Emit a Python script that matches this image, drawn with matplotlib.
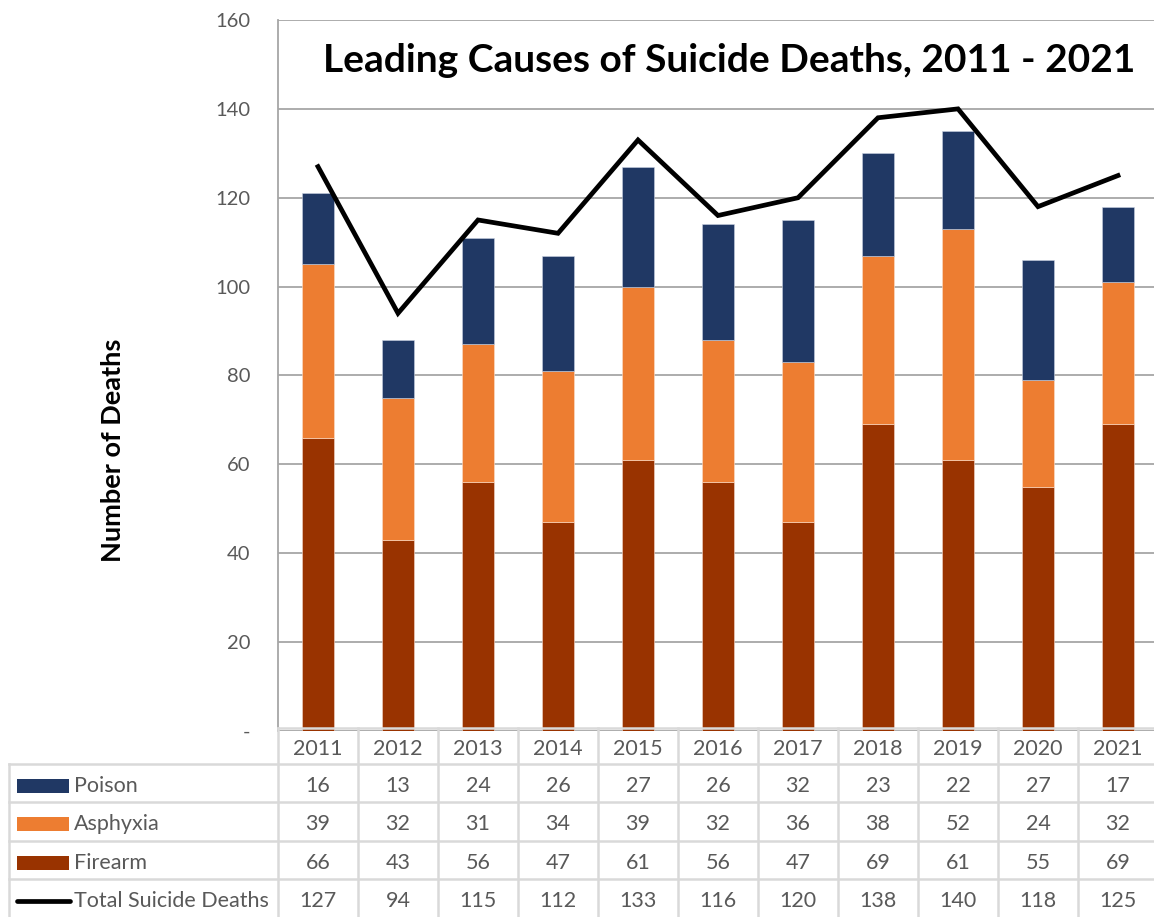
import matplotlib.pyplot as plt
from matplotlib.patches import Rectangle
import numpy as np

# data
years = ["2011", "2012", "2013", "2014", "2015", "2016", "2017", "2018", "2019", "2020", "2021"]
poison = [16, 13, 24, 26, 27, 26, 32, 23, 22, 27, 17]
asphyxia = [39, 32, 31, 34, 39, 32, 36, 38, 52, 24, 32]
firearm = [66, 43, 56, 47, 61, 56, 47, 69, 61, 55, 69]
total = [127, 94, 115, 112, 133, 116, 120, 138, 140, 118, 125]

c_poison = "#203864"
c_asph = "#ED7D31"
c_fire = "#993300"
grey_txt = "#595959"

plt.rcParams['font.family'] = ['Lato', 'DejaVu Sans']

W, H = 1154, 917
fig = plt.figure(figsize=(W / 100, H / 100), dpi=100)

# main plot area (in pixels: x 278..1158, y 20..731 from top)
cat_w = 80
ax = fig.add_axes([278 / W, (H - 731) / H, 11 * cat_w / W, 711 / H])
x = np.arange(len(years))
ax.bar(x, firearm, 0.4, color=c_fire, edgecolor="#f3d9cc", linewidth=0.4, zorder=3)
ax.bar(x, asphyxia, 0.4, bottom=firearm, color=c_asph, edgecolor="#fbe0cc", linewidth=0.4, zorder=3)
bot2 = np.array(firearm) + np.array(asphyxia)
ax.bar(x, poison, 0.4, bottom=bot2, color=c_poison, edgecolor="#c8d0e0", linewidth=0.4, zorder=3)
ax.plot(x, total, color="black", lw=3.4, zorder=4, solid_joinstyle="miter")

ax.set_xlim(-0.5, 10.5)
ax.set_ylim(0, 160)
ax.set_yticks(range(0, 161, 20))
ax.set_yticklabels(["-"] + [str(v) for v in range(20, 161, 20)], color=grey_txt, fontsize=14.5)
ax.tick_params(axis="y", length=0, pad=20)
ax.set_xticks([])
ax.grid(axis="y", color="#a6a6a6", lw=1.3, zorder=0)
for s in ["top", "right", "bottom"]:
    ax.spines[s].set_visible(False)
ax.spines["left"].set_color("#a6a6a6")
ax.spines["left"].set_linewidth(1.3)

fig.text(729.5 / W, (H - 72) / H, "Leading Causes of Suicide Deaths, 2011 - 2021",
         ha="center", va="baseline", fontsize=28, fontweight="bold")
fig.text(113 / W, (H - 450) / H, "Number of Deaths", rotation=90,
         ha="center", va="center", fontsize=19.5, fontweight="bold")

# data table below the plot
left_cats = (278 - 9) / cat_w
tax = fig.add_axes([9 / W, 0, (278 - 9 + 11 * cat_w) / W, (H - 731 + 3) / H])
tax.set_xlim(-0.5 - left_cats, 10.5)
tax.set_ylim(189, 0)
tax.axis("off")
row_edges = [0, 35.5, 74, 112.5, 151, 189]
line_c = "#d9d9d9"
for yy in row_edges[1:-1]:
    tax.plot([-0.5 - left_cats, 10.5], [yy, yy], color=line_c, lw=1.8, clip_on=False)
tax.plot([-0.5, 10.5], [0, 0], color=line_c, lw=1.8, clip_on=False)
tax.plot([-0.5 - left_cats] * 2, [35.5, 189], color=line_c, lw=1.8, clip_on=False)
for k in range(len(years) + 1):
    tax.plot([k - 0.5] * 2, [0, 189], color=line_c, lw=1.8, clip_on=False)

# text sits a little low in each cell, as in the reference
centers = [(row_edges[i] + row_edges[i + 1]) / 2 + 3 for i in range(len(row_edges) - 1)]
fs = 15.5
for i, yr in enumerate(years):
    tax.text(i, centers[0], yr, ha="center", va="center", fontsize=fs, color=grey_txt)

rows = [("Poison", poison, c_poison), ("Asphyxia", asphyxia, c_asph),
        ("Firearm", firearm, c_fire), ("Total Suicide Deaths", total, None)]
px = lambda p: -0.5 - left_cats + (p - 9) / cat_w
for r, (name, vals, col) in enumerate(rows):
    yc = centers[r + 1]
    if col is not None:
        tax.add_patch(Rectangle((px(17), yc - 7), (69 - 17) / cat_w, 14, color=col, lw=0))
    else:
        tax.plot([px(17), px(70)], [yc, yc], color="black", lw=3.4, solid_capstyle="round")
    tax.text(px(74), yc, name, ha="left", va="center", fontsize=fs, color=grey_txt)
    for i, v in enumerate(vals):
        tax.text(i, yc, str(v), ha="center", va="center", fontsize=fs, color=grey_txt)

fig.savefig("out.png", dpi=100)
